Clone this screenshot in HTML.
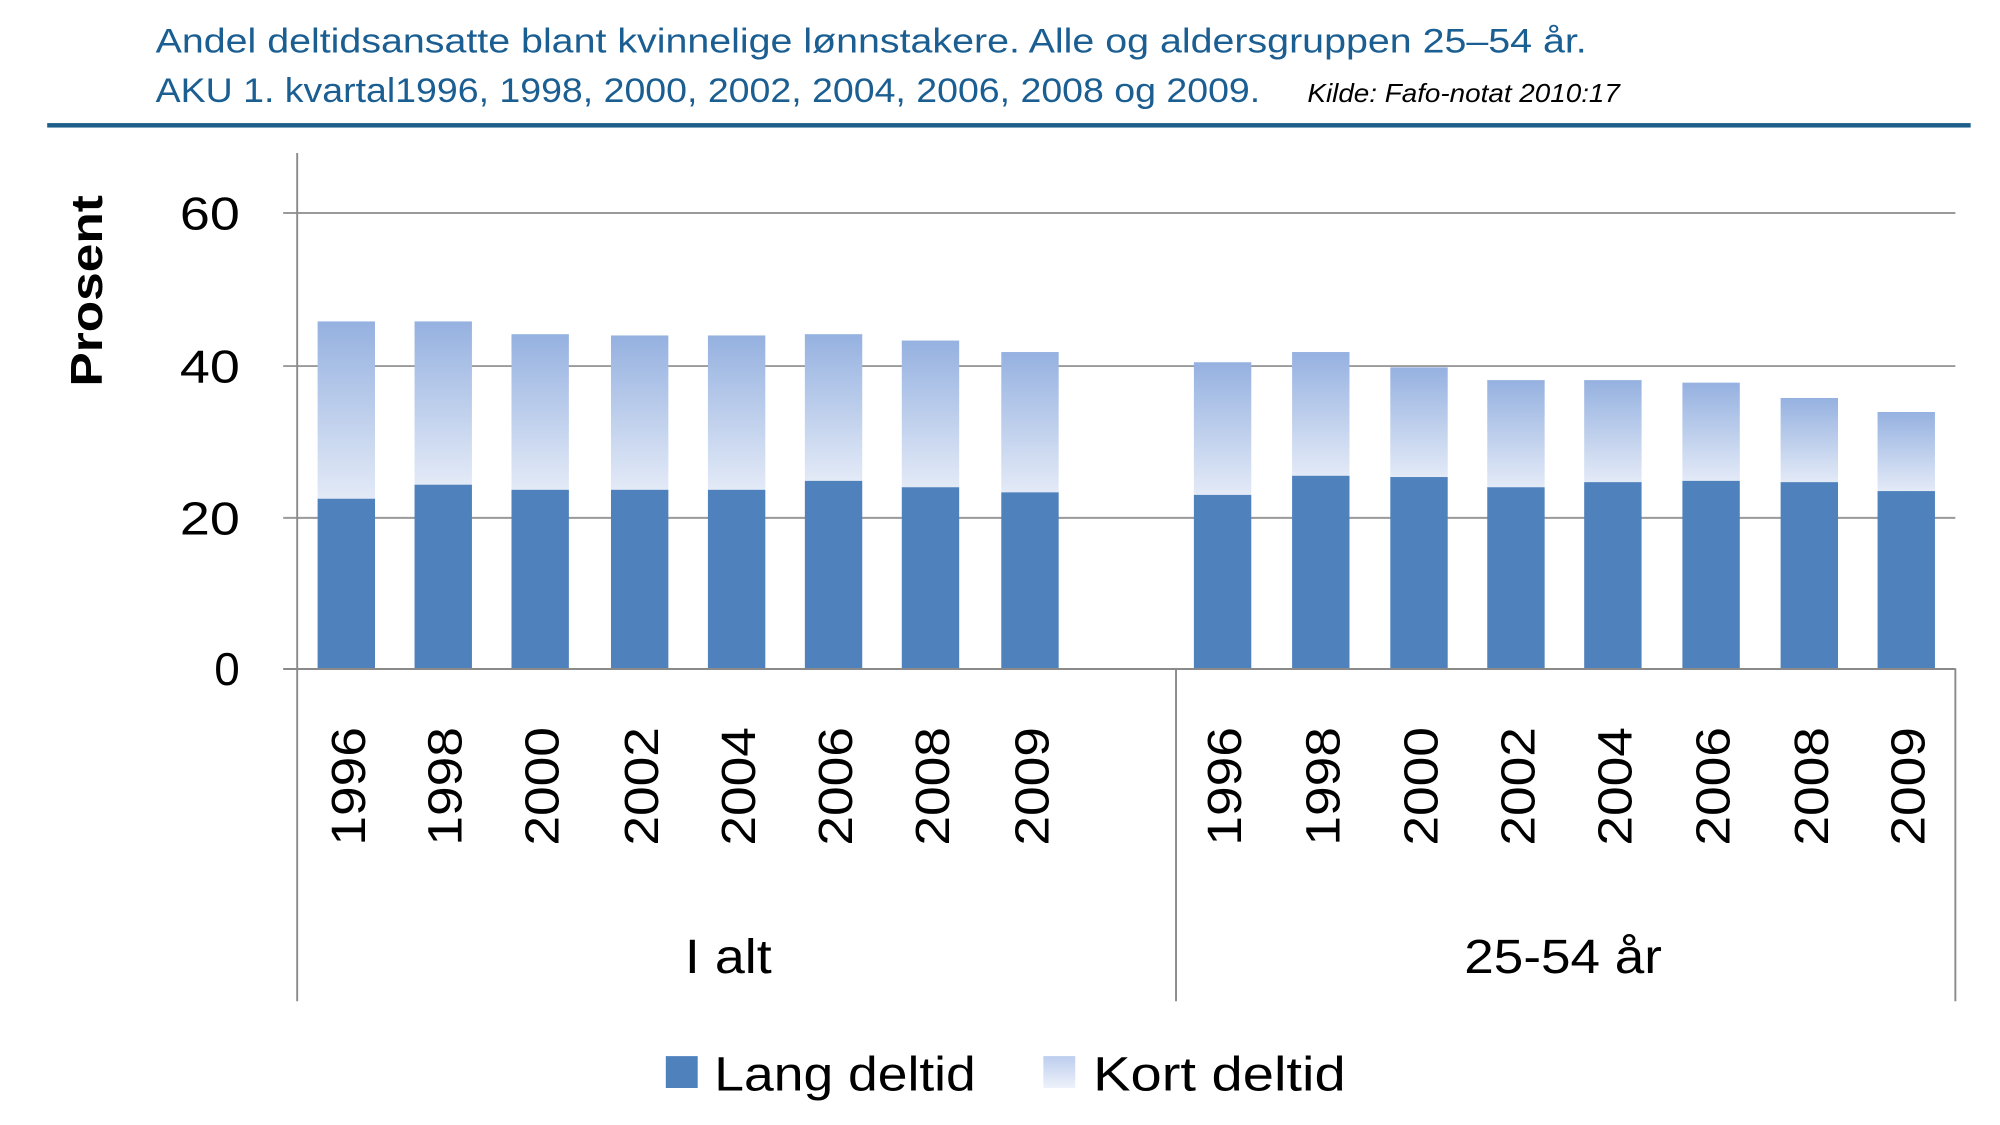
<!DOCTYPE html>
<html><head><meta charset="utf-8"><style>
html,body{margin:0;padding:0;background:#fff;}
svg{display:block;}
</style></head><body>
<svg width="2000" height="1125" viewBox="0 0 1568 882" preserveAspectRatio="none" xmlns="http://www.w3.org/2000/svg" font-family="Liberation Sans, sans-serif">
<defs>
<linearGradient id="k" x1="0" y1="0" x2="0" y2="1">
<stop offset="0" stop-color="#95b1e0"/><stop offset="1" stop-color="#e3eaf7"/>
</linearGradient>
<linearGradient id="kl" x1="0" y1="0" x2="0" y2="1">
<stop offset="0" stop-color="#bccdee"/><stop offset="1" stop-color="#eef2fa"/>
</linearGradient>
</defs>
<text x="122" y="41" font-size="27" fill="#1b5e92" textLength="1122" lengthAdjust="spacingAndGlyphs">Andel deltidsansatte blant kvinnelige lønnstakere. Alle og aldersgruppen 25–54 år.</text>
<text x="122" y="80" font-size="27" fill="#1b5e92" textLength="866" lengthAdjust="spacingAndGlyphs">AKU 1. kvartal1996, 1998, 2000, 2002, 2004, 2006, 2008 og 2009.</text>
<text x="1025" y="80" font-size="20" font-style="italic" fill="#000" textLength="245" lengthAdjust="spacingAndGlyphs">Kilde: Fafo-notat 2010:17</text>
<rect x="37" y="96.5" width="1508" height="3.5" fill="#1d5f8a"/>
<g stroke="#9a9a9a" stroke-width="1.5">
<line x1="222" y1="167" x2="1533" y2="167"/>
<line x1="222" y1="287" x2="1533" y2="287"/>
<line x1="222" y1="406" x2="1533" y2="406"/>
</g>
<g font-size="36" fill="#000" text-anchor="end">
<text x="188" y="180" textLength="47" lengthAdjust="spacingAndGlyphs">60</text>
<text x="188" y="300" textLength="47" lengthAdjust="spacingAndGlyphs">40</text>
<text x="188" y="419" textLength="47" lengthAdjust="spacingAndGlyphs">20</text>
<text x="188" y="537">0</text>
</g>
<text transform="translate(80,228) rotate(-90)" font-size="35" font-weight="bold" text-anchor="middle" textLength="150" lengthAdjust="spacingAndGlyphs">Prosent</text>
<g id="bars">
<rect x="249" y="252" width="45" height="139" fill="url(#k)"/><rect x="249" y="391" width="45" height="133" fill="#4f81bd"/>
<rect x="325" y="252" width="45" height="128" fill="url(#k)"/><rect x="325" y="380" width="45" height="144" fill="#4f81bd"/>
<rect x="401" y="262" width="45" height="122" fill="url(#k)"/><rect x="401" y="384" width="45" height="140" fill="#4f81bd"/>
<rect x="479" y="263" width="45" height="121" fill="url(#k)"/><rect x="479" y="384" width="45" height="140" fill="#4f81bd"/>
<rect x="555" y="263" width="45" height="121" fill="url(#k)"/><rect x="555" y="384" width="45" height="140" fill="#4f81bd"/>
<rect x="631" y="262" width="45" height="115" fill="url(#k)"/><rect x="631" y="377" width="45" height="147" fill="#4f81bd"/>
<rect x="707" y="267" width="45" height="115" fill="url(#k)"/><rect x="707" y="382" width="45" height="142" fill="#4f81bd"/>
<rect x="785" y="276" width="45" height="110" fill="url(#k)"/><rect x="785" y="386" width="45" height="138" fill="#4f81bd"/>
<rect x="936" y="284" width="45" height="104" fill="url(#k)"/><rect x="936" y="388" width="45" height="136" fill="#4f81bd"/>
<rect x="1013" y="276" width="45" height="97" fill="url(#k)"/><rect x="1013" y="373" width="45" height="151" fill="#4f81bd"/>
<rect x="1090" y="288" width="45" height="86" fill="url(#k)"/><rect x="1090" y="374" width="45" height="150" fill="#4f81bd"/>
<rect x="1166" y="298" width="45" height="84" fill="url(#k)"/><rect x="1166" y="382" width="45" height="142" fill="#4f81bd"/>
<rect x="1242" y="298" width="45" height="80" fill="url(#k)"/><rect x="1242" y="378" width="45" height="146" fill="#4f81bd"/>
<rect x="1319" y="300" width="45" height="77" fill="url(#k)"/><rect x="1319" y="377" width="45" height="147" fill="#4f81bd"/>
<rect x="1396" y="312" width="45" height="66" fill="url(#k)"/><rect x="1396" y="378" width="45" height="146" fill="#4f81bd"/>
<rect x="1472" y="323" width="45" height="62" fill="url(#k)"/><rect x="1472" y="385" width="45" height="139" fill="#4f81bd"/>
</g>
<g stroke="#8a8a8a" stroke-width="1.5">
<line x1="233" y1="120" x2="233" y2="785"/>
<line x1="222" y1="524.5" x2="1533" y2="524.5"/>
<line x1="922" y1="524" x2="922" y2="785"/>
<line x1="1533" y1="524" x2="1533" y2="785"/>
</g>
<g font-size="38" fill="#000">
<text transform="translate(286,663) rotate(-90)" textLength="93" lengthAdjust="spacingAndGlyphs">1996</text>
<text transform="translate(362,663) rotate(-90)" textLength="93" lengthAdjust="spacingAndGlyphs">1998</text>
<text transform="translate(438,663) rotate(-90)" textLength="93" lengthAdjust="spacingAndGlyphs">2000</text>
<text transform="translate(516,663) rotate(-90)" textLength="93" lengthAdjust="spacingAndGlyphs">2002</text>
<text transform="translate(592,663) rotate(-90)" textLength="93" lengthAdjust="spacingAndGlyphs">2004</text>
<text transform="translate(668,663) rotate(-90)" textLength="93" lengthAdjust="spacingAndGlyphs">2006</text>
<text transform="translate(744,663) rotate(-90)" textLength="93" lengthAdjust="spacingAndGlyphs">2008</text>
<text transform="translate(822,663) rotate(-90)" textLength="93" lengthAdjust="spacingAndGlyphs">2009</text>
<text transform="translate(973,663) rotate(-90)" textLength="93" lengthAdjust="spacingAndGlyphs">1996</text>
<text transform="translate(1050,663) rotate(-90)" textLength="93" lengthAdjust="spacingAndGlyphs">1998</text>
<text transform="translate(1127,663) rotate(-90)" textLength="93" lengthAdjust="spacingAndGlyphs">2000</text>
<text transform="translate(1203,663) rotate(-90)" textLength="93" lengthAdjust="spacingAndGlyphs">2002</text>
<text transform="translate(1279,663) rotate(-90)" textLength="93" lengthAdjust="spacingAndGlyphs">2004</text>
<text transform="translate(1356,663) rotate(-90)" textLength="93" lengthAdjust="spacingAndGlyphs">2006</text>
<text transform="translate(1433,663) rotate(-90)" textLength="93" lengthAdjust="spacingAndGlyphs">2008</text>
<text transform="translate(1509,663) rotate(-90)" textLength="93" lengthAdjust="spacingAndGlyphs">2009</text>
</g>
<g font-size="38" fill="#000">
<text x="537" y="763" textLength="68" lengthAdjust="spacingAndGlyphs">I alt</text>
<text x="1148" y="763" textLength="155" lengthAdjust="spacingAndGlyphs">25-54 år</text>
</g>
<rect x="522" y="828" width="25" height="25" fill="#4f81bd"/>
<text x="560" y="855" font-size="38" fill="#000" textLength="205" lengthAdjust="spacingAndGlyphs">Lang deltid</text>
<rect x="818" y="828" width="25" height="25" fill="url(#kl)"/>
<text x="857" y="855" font-size="38" fill="#000" textLength="198" lengthAdjust="spacingAndGlyphs">Kort deltid</text>
</svg>
</body></html>
